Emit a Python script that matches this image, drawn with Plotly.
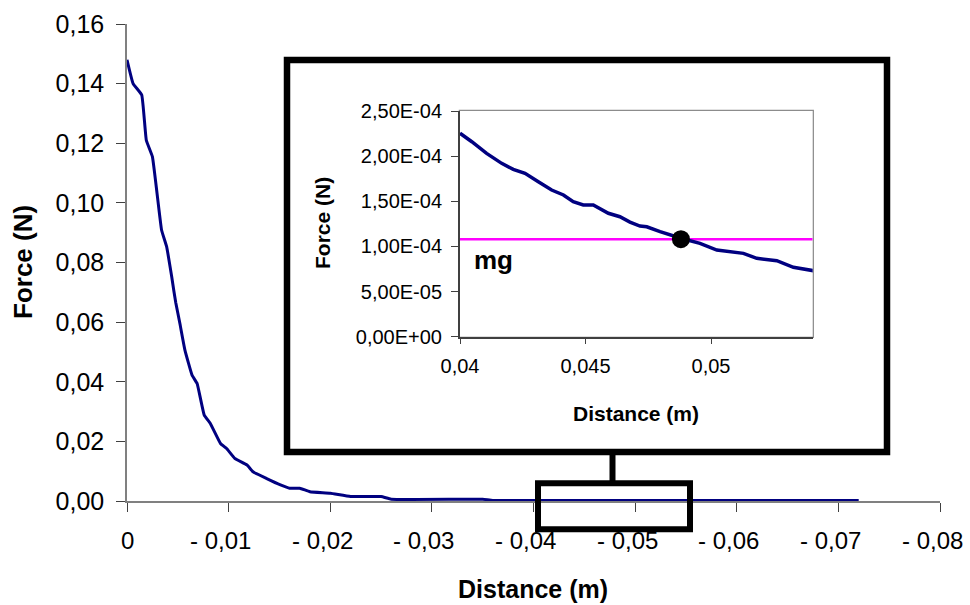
import plotly.graph_objects as go

# ---- data ----
main_x = [0, 0.0006, 0.00145, 0.0019, 0.0025, 0.0034, 0.0039, 0.0044, 0.0046, 0.0048,
          0.0052, 0.0057, 0.0064, 0.0069, 0.0076, 0.0082, 0.0092, 0.0098, 0.0106, 0.0118,
          0.0124, 0.0137, 0.0151, 0.016, 0.017, 0.018, 0.020, 0.022, 0.025, 0.026,
          0.035, 0.036, 0.072]
main_y = [0.148, 0.140, 0.1362, 0.121, 0.1155, 0.0909, 0.0853, 0.0752, 0.0707, 0.0665,
          0.0596, 0.0506, 0.0422, 0.0394, 0.0288, 0.0260, 0.0193, 0.0176, 0.0143, 0.0121,
          0.0098, 0.0076, 0.0054, 0.0043, 0.0043, 0.0031, 0.0026, 0.0015, 0.0015, 0.0006,
          0.0006, 0.0002, 0.0002]

inset_x = [0.0400, 0.04047, 0.04106, 0.04166, 0.04212, 0.04259, 0.04312, 0.04365, 0.04412,
           0.04451, 0.04491, 0.04531, 0.04591, 0.04637, 0.04677, 0.04717, 0.04744, 0.04797,
           0.0488, 0.04956, 0.05023, 0.05129, 0.05182, 0.05262, 0.05328, 0.05408]
inset_y = [2.253e-4, 2.16e-4, 2.031e-4, 1.92e-4, 1.854e-4, 1.81e-4, 1.717e-4, 1.625e-4, 1.57e-4,
           1.495e-4, 1.459e-4, 1.459e-4, 1.367e-4, 1.329e-4, 1.27e-4, 1.226e-4, 1.218e-4, 1.163e-4,
           1.09e-4, 1.034e-4, 0.96e-4, 0.923e-4, 0.868e-4, 0.842e-4, 0.769e-4, 0.731e-4]

mg_value = 1.08e-4
mg_x = [0.04, 0.05405]
cross_x = [0.0488]
cross_y = [1.08e-4]

main_xticks = [0, 0.01, 0.02, 0.03, 0.04, 0.05, 0.06, 0.07, 0.08]
main_xticktext = ["0", "- 0,01", "- 0,02", "- 0,03", "- 0,04", "- 0,05", "- 0,06", "- 0,07", "- 0,08"]
main_yticks = [0, 0.02, 0.04, 0.06, 0.08, 0.10, 0.12, 0.14, 0.16]
main_yticktext = ["0,00", "0,02", "0,04", "0,06", "0,08", "0,10", "0,12", "0,14", "0,16"]
inset_xticks = [0.04, 0.045, 0.05]
inset_xticktext = ["0,04", "0,045", "0,05"]
inset_yticks = [0, 5e-5, 1e-4, 1.5e-4, 2e-4, 2.5e-4]
inset_yticktext = ["0,00E+00", "5,00E-05", "1,00E-04", "1,50E-04", "2,00E-04", "2,50E-04"]

W, H = 970, 605
FONT = "Arial, Liberation Sans, sans-serif"


def px(x):
    return x / W


def py(y):
    return 1 - y / H


fig = go.Figure()

fig.add_trace(go.Scatter(x=main_x, y=main_y, mode="lines",
                         line=dict(color="#000080", width=3, shape="spline", smoothing=0.3),
                         xaxis="x", yaxis="y", showlegend=False, hoverinfo="skip"))
fig.add_trace(go.Scatter(x=mg_x, y=[mg_value, mg_value], mode="lines",
                         line=dict(color="#FF00FF", width=2.5), xaxis="x2", yaxis="y2",
                         showlegend=False, hoverinfo="skip"))
fig.add_trace(go.Scatter(x=inset_x, y=inset_y, mode="lines",
                         line=dict(color="#000080", width=3.5), xaxis="x2", yaxis="y2",
                         showlegend=False, hoverinfo="skip"))
fig.add_trace(go.Scatter(x=cross_x, y=cross_y, mode="markers",
                         marker=dict(color="black", size=18), xaxis="x2", yaxis="y2",
                         showlegend=False, hoverinfo="skip"))

axis_common = dict(showgrid=False, zeroline=False, ticks="outside", tickcolor="#404040",
                   automargin=False, ticklabeloverflow="allow")

fig.update_layout(
    width=W, height=H,
    margin=dict(l=0, r=0, t=0, b=0, autoexpand=False),
    paper_bgcolor="white", plot_bgcolor="white",
    font=dict(family=FONT, color="black"),
    xaxis=dict(domain=[px(127), px(940)], range=[0, 0.08], tickmode="array",
               tickvals=main_xticks, showticklabels=False, ticklen=9,
               showline=True, linecolor="#808080", linewidth=1.5,
               anchor="y", **axis_common),
    yaxis=dict(domain=[py(501), py(24)], range=[0, 0.16], tickmode="array",
               tickvals=main_yticks, ticktext=main_yticktext, ticklen=9,
               showline=True, linecolor="#808080", linewidth=1.5,
               tickfont=dict(size=25, family=FONT), ticklabelstandoff=7,
               anchor="x", **axis_common),
    xaxis2=dict(domain=[px(460), px(812.7)], range=[0.04, 0.05405], tickmode="array",
                tickvals=inset_xticks, ticktext=inset_xticktext, ticklen=5,
                showline=True, linecolor="#404040", linewidth=2,
                tickfont=dict(size=20, family=FONT), ticklabelstandoff=5,
                anchor="y2", **axis_common),
    yaxis2=dict(domain=[py(336.7), py(111)], range=[0, 2.5e-4], tickmode="array",
                tickvals=inset_yticks, ticktext=inset_yticktext, ticklen=7,
                showline=True, linecolor="#404040", linewidth=2,
                tickfont=dict(size=20, family=FONT), ticklabelstandoff=5,
                anchor="x2", **axis_common),
)

shapes = [
    # big inset frame
    dict(type="rect", xref="paper", yref="paper", x0=px(287), x1=px(887), y0=py(452), y1=py(60),
         line=dict(color="black", width=6.5), fillcolor="white", layer="below"),
    # inset plot-area border
    dict(type="rect", xref="paper", yref="paper", x0=px(460), x1=px(812.7), y0=py(336.7), y1=py(111),
         line=dict(color="#8c8c8c", width=2.5), fillcolor="rgba(0,0,0,0)", layer="below"),
    # connector
    dict(type="line", xref="paper", yref="paper", x0=px(612.5), x1=px(612.5), y0=py(452), y1=py(483),
         line=dict(color="black", width=6), layer="above"),
    # zoom box
    dict(type="rect", xref="paper", yref="paper", x0=px(538), x1=px(690), y0=py(529.3), y1=py(483.3),
         line=dict(color="black", width=6), fillcolor="rgba(0,0,0,0)", layer="above"),
]
fig.update_layout(shapes=shapes)

annotations = [
    dict(text="Force (N)", x=px(23), y=py(262), textangle=-90,
         font=dict(size=26, family=FONT, weight="bold")),
    dict(text="Distance (m)", x=px(533), y=py(589),
         font=dict(size=25, family=FONT, weight="bold")),
    dict(text="Force (N)", x=px(323), y=py(223), textangle=-90,
         font=dict(size=21, family=FONT, weight="bold")),
    dict(text="Distance (m)", x=px(636), y=py(413),
         font=dict(size=21, family=FONT, weight="bold")),
    dict(text="mg", x=px(472), y=py(260), xanchor="left",
         font=dict(size=26, family=FONT, weight="bold")),
]
for a in annotations:
    a.update(xref="paper", yref="paper", showarrow=False)
    a.setdefault("xanchor", "center")
    a.setdefault("yanchor", "middle")

# main x tick labels (the "0,0x" part is centred on its tick, the dash sits to its left)
for v, t in zip(main_xticks, main_xticktext):
    annotations.append(dict(text=t, x=v, xref="x", y=py(540), yref="paper",
                            xanchor="center", yanchor="middle", showarrow=False,
                            xshift=0 if t == "0" else -8,
                            font=dict(size=24, family=FONT)))
fig.update_layout(annotations=annotations)

fig.write_html("out.html")
